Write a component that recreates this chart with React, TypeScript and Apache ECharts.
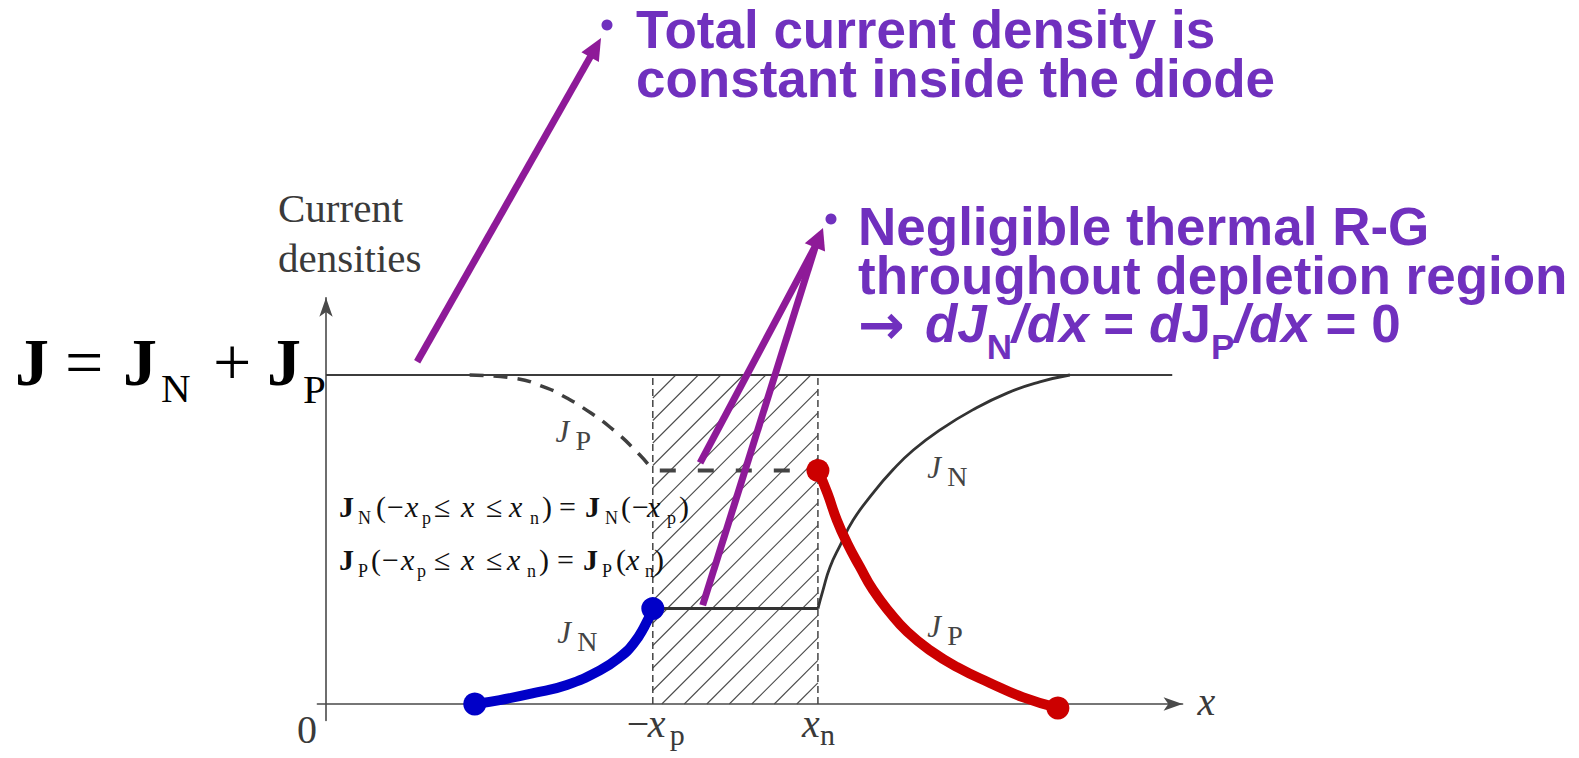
import React, { useEffect, useRef } from "react";
import * as echarts from "echarts";

// ---- axis ranges (position x, current density normalised to J) ----
const X_MIN = -0.1;
const X_MAX = 9.96;
const Y_MIN = -0.05;
const Y_MAX = 1.235;

// depletion region edges and current levels
const NEG_XP = 3.8;
const XN = 5.72;
const J_TOTAL = 1;
const J_LINE_END = 9.84;
const JN_AT_NEG_XP = 0.29;
const JP_AT_XN = 0.71;

// hole current on the p side (dashed)
const jpPSide: number[][] = [
  [1.67, 1.0], [2.17, 0.991], [2.57, 0.96], [2.8, 0.93], [2.99, 0.9],
  [3.3, 0.842], [3.65, 0.757], [NEG_XP, JP_AT_XN],
];
// electron current on the p side (blue)
const jnPSide: number[][] = [
  [1.73, 0], [2.02, 0.012], [2.41, 0.033], [2.8, 0.058], [3.19, 0.103],
  [3.42, 0.143], [3.58, 0.185], [3.7, 0.234], [NEG_XP, JN_AT_NEG_XP],
];
// electron current on the n side (thin black)
const jnNSide: number[][] = [
  [XN, JN_AT_NEG_XP], [5.78, 0.347], [5.86, 0.416], [5.98, 0.483], [6.13, 0.559],
  [6.36, 0.641], [6.59, 0.711], [6.83, 0.772], [7.14, 0.833], [7.52, 0.894],
  [7.92, 0.945], [8.3, 0.979], [8.65, 1.0],
];
// hole current on the n side (red)
const jpNSide: number[][] = [
  [XN, JP_AT_XN], [5.83, 0.641], [5.94, 0.559], [6.06, 0.489], [6.21, 0.416],
  [6.36, 0.347], [6.56, 0.277], [6.76, 0.219], [7.02, 0.164], [7.34, 0.112],
  [7.72, 0.064], [8.1, 0.021], [8.51, -0.012],
];

const TITLE_1 = ["Total current density is", "constant inside the diode"];
const TITLE_2 = ["Negligible thermal R-G", "throughout depletion region"];

// ---- layout ----
const W = 1579;
const H = 758;
const ORIGIN_X = 326;
const ORIGIN_Y = 704;
const PX_PER_X = 86;
const PX_PER_Y = 329;

const SERIF = '"Liberation Serif", "Times New Roman", serif';
const SANS = '"Liberation Sans", Arial, sans-serif';
const PURPLE_TEXT = "#7030BE";
const PURPLE_ARROW = "#8E1A98";
const INK = "#3a3a3a";
const BLUE = "#0000C8";
const RED = "#CC0000";

type Tok = { t: string; at?: number; gap?: number; size: number; fam?: string; w?: string; it?: boolean; dy?: number };

let measureCtx: CanvasRenderingContext2D | null = null;

function tokenTexts(x0: number, base: number, toks: Tok[], fam: string, fill: string): any[] {
  if (!measureCtx) measureCtx = document.createElement("canvas").getContext("2d");
  let x = x0;
  const out: any[] = [];
  for (const tok of toks) {
    const font = `${tok.it ? "italic" : "normal"} ${tok.w || "normal"} ${tok.size}px ${tok.fam || fam}`;
    if (tok.at !== undefined) x = x0 + tok.at;
    else x += tok.gap || 0;
    out.push({
      type: "text",
      x,
      y: base + (tok.dy || 0) - 0.34 * tok.size,
      z: 100,
      silent: true,
      style: { text: tok.t, font, fill, align: "left", verticalAlign: "middle" },
    });
    measureCtx!.font = font;
    x += measureCtx!.measureText(tok.t).width;
  }
  return out;
}

function arrowShapes(tails: number[][], tip: number[], headLen: number, headW: number, width: number): any[] {
  // head direction: mean of the unit directions of all shafts
  let ux = 0, uy = 0;
  tails.forEach(([tx, ty]) => {
    const dx = tip[0] - tx, dy = tip[1] - ty;
    const l = Math.hypot(dx, dy);
    ux += dx / l; uy += dy / l;
  });
  const l = Math.hypot(ux, uy);
  ux /= l; uy /= l;
  const bx = tip[0] - ux * headLen, by = tip[1] - uy * headLen;
  const px = -uy, py = ux;
  const out: any[] = tails.map(([tx, ty]) => ({
    type: "line",
    z: 110,
    silent: true,
    shape: { x1: tx, y1: ty, x2: bx + ux * 2, y2: by + uy * 2 },
    style: { stroke: PURPLE_ARROW, lineWidth: width, lineCap: "butt" },
  }));
  out.push({
    type: "polygon",
    z: 111,
    silent: true,
    shape: {
      points: [
        [tip[0], tip[1]],
        [bx + (px * headW) / 2, by + (py * headW) / 2],
        [bx - (px * headW) / 2, by - (py * headW) / 2],
      ],
    },
    style: { fill: PURPLE_ARROW },
  });
  return out;
}

function hatchItem(params: any, api: any) {
  const tl = api.coord([api.value(0), api.value(3)]);
  const br = api.coord([api.value(1), api.value(2)]);
  const x0 = tl[0], y0 = tl[1], x1 = br[0], y1 = br[1];
  const step = 22.5;
  const phase = x0 + y1 + 9;
  const kMin = Math.ceil((x0 + y0 - phase) / step);
  const kMax = Math.floor((x1 + y1 - phase) / step);
  const children: any[] = [];
  for (let k = kMin; k <= kMax; k++) {
    const c = phase + k * step;
    const xa = Math.max(x0, c - y1);
    const xb = Math.min(x1, c - y0);
    if (xb > xa) {
      children.push({
        type: "line",
        shape: { x1: xa, y1: c - xa, x2: xb, y2: c - xb },
        style: { stroke: "#4a4a4a", lineWidth: 1.1 },
      });
    }
  }
  return { type: "group", children };
}

function lineSeries(data: number[][], color: string, width: number, extra: any = {}) {
  return {
    type: "line",
    data,
    symbol: "none",
    showSymbol: false,
    silent: true,
    lineStyle: { color, width, ...(extra.lineStyle || {}) },
    z: extra.z ?? 3,
    smooth: extra.smooth ?? false,
  };
}

export default function App() {
  const ref = useRef<HTMLDivElement>(null);

  useEffect(() => {
    document.body.style.margin = "0";
    const chart = echarts.init(ref.current!, undefined, { renderer: "svg" });

    const axisLine = { color: "#4a4a4a", width: 1.6 };
    chart.setOption({
      animation: false,
      backgroundColor: "#ffffff",
      grid: {
        left: ORIGIN_X + X_MIN * PX_PER_X,
        top: ORIGIN_Y - Y_MAX * PX_PER_Y,
        width: (X_MAX - X_MIN) * PX_PER_X,
        height: (Y_MAX - Y_MIN) * PX_PER_Y,
        containLabel: false,
        outerBoundsMode: "none",
      },
      xAxis: {
        type: "value",
        min: X_MIN,
        max: X_MAX,
        axisLine: { onZero: true, symbol: ["none", "arrow"], symbolSize: [10, 19], lineStyle: axisLine },
        axisTick: { show: false },
        axisLabel: { show: false },
        splitLine: { show: false },
      },
      yAxis: {
        type: "value",
        min: Y_MIN,
        max: Y_MAX,
        axisLine: { onZero: true, symbol: ["none", "arrow"], symbolSize: [10, 19], lineStyle: axisLine },
        axisTick: { show: false },
        axisLabel: { show: false },
        splitLine: { show: false },
      },
      series: [
        {
          type: "custom",
          silent: true,
          z: 1,
          renderItem: hatchItem,
          data: [[NEG_XP, XN, 0, J_TOTAL]],
          encode: { x: [0, 1], y: [2, 3] },
        },
        lineSeries([[NEG_XP, 0], [NEG_XP, J_TOTAL]], "#444", 1.5, { lineStyle: { type: [7, 4] }, z: 2 }),
        lineSeries([[XN, 0], [XN, J_TOTAL]], "#444", 1.5, { lineStyle: { type: [7, 4] }, z: 2 }),
        lineSeries([[0, J_TOTAL], [J_LINE_END, J_TOTAL]], "#3c3c3c", 2),
        lineSeries(jpPSide, "#3f3f3f", 3.5, { smooth: true, lineStyle: { type: [14, 10] } }),
        lineSeries([[NEG_XP, JP_AT_XN], [XN, JP_AT_XN]], "#444", 4, { lineStyle: { type: [16, 22], dashOffset: 31 } }),
        lineSeries([[NEG_XP, JN_AT_NEG_XP], [XN, JN_AT_NEG_XP]], "#333", 3),
        lineSeries(jnNSide, "#333", 2.8, { smooth: true }),
        lineSeries(jnPSide, BLUE, 10, { smooth: true, z: 5 }),
        lineSeries(jpNSide, RED, 10, { smooth: true, z: 5 }),
        {
          type: "scatter",
          silent: true,
          z: 6,
          symbolSize: 23,
          itemStyle: { opacity: 1 },
          data: [
            { value: jnPSide[0], itemStyle: { color: BLUE, opacity: 1 } },
            { value: jnPSide[jnPSide.length - 1], itemStyle: { color: BLUE, opacity: 1 } },
            { value: jpNSide[0], itemStyle: { color: RED, opacity: 1 } },
            { value: jpNSide[jpNSide.length - 1], itemStyle: { color: RED, opacity: 1 } },
          ],
        },
      ],
    });

    const px = (x: number, y: number) => chart.convertToPixel({ gridIndex: 0 }, [x, y]) as number[];
    const o = px(0, 0);
    const pXp = px(NEG_XP, 0);
    const pXn = px(XN, 0);
    const xEnd = px(X_MAX, 0);

    const els: any[] = [];

    // axis captions
    els.push(...tokenTexts(o[0] - 29, o[1] + 39, [{ t: "0", size: 40 }], SERIF, INK));
    els.push(...tokenTexts(pXp[0] - 26, o[1] + 33, [
      { t: "\u2212", at: 0, size: 40 },
      { t: "x", at: 21, size: 40, it: true },
      { t: "p", at: 43, size: 30, dy: 8 },
    ], SERIF, INK));
    els.push(...tokenTexts(pXn[0] - 16, o[1] + 33, [
      { t: "x", at: 0, size: 40, it: true },
      { t: "n", at: 18, size: 30, dy: 8 },
    ], SERIF, INK));
    els.push(...tokenTexts(xEnd[0] + 15, o[1] + 11, [{ t: "x", size: 40, it: true }], SERIF, INK));
    els.push(...tokenTexts(278, 222, [{ t: "Current", size: 41 }], SERIF, INK));
    els.push(...tokenTexts(278, 272, [{ t: "densities", size: 41 }], SERIF, INK));

    // curve labels
    const curveLabel = (x: number, y: number, sub: string) => {
      const p = px(x, y);
      return tokenTexts(p[0], p[1], [
        { t: "J", at: 0, size: 31, it: true },
        { t: sub, at: 20, size: 28, dy: 8 },
      ], SERIF, "#444");
    };
    els.push(...curveLabel(2.67, 0.796, "P"));
    els.push(...curveLabel(2.69, 0.185, "N"));
    els.push(...curveLabel(6.99, 0.687, "N"));
    els.push(...curveLabel(6.99, 0.204, "P"));

    // J = J_N + J_P
    els.push(...tokenTexts(15, 385, [
      { t: "J", at: 0, size: 68, w: "bold" },
      { t: "=", at: 50, size: 68 },
      { t: "J", at: 108, size: 68, w: "bold" },
      { t: "N", at: 146, size: 41, dy: 17 },
      { t: "+", at: 198, size: 68 },
      { t: "J", at: 252, size: 68, w: "bold" },
      { t: "P", at: 288, size: 41, dy: 18 },
    ], SERIF, "#000"));

    // boundary conditions across the depletion region
    const S = 30, s = 18, d = 7;
    els.push(...tokenTexts(339, 517, [
      { t: "J", at: 0, size: S, w: "bold" }, { t: "N", at: 19, size: s, dy: d },
      { t: "(", at: 37, size: S }, { t: "\u2212", at: 48, size: S },
      { t: "x", at: 66, size: S, it: true }, { t: "p", at: 83, size: s, dy: d },
      { t: "\u2264", at: 95, size: S }, { t: "x", at: 122, size: S, it: true },
      { t: "\u2264", at: 147, size: S }, { t: "x", at: 170, size: S, it: true },
      { t: "n", at: 191, size: s, dy: d }, { t: ")", at: 203, size: S },
      { t: "=", at: 220, size: S }, { t: "J", at: 246, size: S, w: "bold" },
      { t: "N", at: 266, size: s, dy: d }, { t: "(", at: 282, size: S },
      { t: "\u2212", at: 293, size: S }, { t: "x", at: 308, size: S, it: true },
      { t: "p", at: 328, size: s, dy: d }, { t: ")", at: 340, size: S },
    ], SERIF, "#111"));
    els.push(...tokenTexts(339, 570, [
      { t: "J", at: 0, size: S, w: "bold" }, { t: "P", at: 19, size: s, dy: d },
      { t: "(", at: 32, size: S }, { t: "\u2212", at: 43, size: S },
      { t: "x", at: 62, size: S, it: true }, { t: "p", at: 78, size: s, dy: d },
      { t: "\u2264", at: 95, size: S }, { t: "x", at: 122, size: S, it: true },
      { t: "\u2264", at: 147, size: S }, { t: "x", at: 168, size: S, it: true },
      { t: "n", at: 188, size: s, dy: d }, { t: ")", at: 200, size: S },
      { t: "=", at: 218, size: S }, { t: "J", at: 244, size: S, w: "bold" },
      { t: "P", at: 263, size: s, dy: d }, { t: "(", at: 277, size: S },
      { t: "x", at: 287, size: S, it: true }, { t: "n", at: 306, size: s, dy: d },
      { t: ")", at: 315, size: S },
    ], SERIF, "#111"));

    // call-outs
    const T = 53;
    els.push(...tokenTexts(636, 48, [{ t: TITLE_1[0], size: T, w: "bold" }], SANS, PURPLE_TEXT));
    els.push(...tokenTexts(636, 97, [{ t: TITLE_1[1], size: T, w: "bold" }], SANS, PURPLE_TEXT));
    els.push(...tokenTexts(858, 245, [{ t: TITLE_2[0], size: T, w: "bold" }], SANS, PURPLE_TEXT));
    els.push(...tokenTexts(858, 294, [{ t: TITLE_2[1], size: T, w: "bold" }], SANS, PURPLE_TEXT));
    els.push(...tokenTexts(858, 342, [
      { t: "\u2192", size: 56, w: "bold", fam: '"DejaVu Sans"', dy: 2 },
      { t: "dJ", gap: 20, size: T, w: "bold", it: true },
      { t: "N", size: 35, w: "bold", dy: 16 },
      { t: "/dx", size: T, w: "bold", it: true },
      { t: " = ", size: T, w: "bold" },
      { t: "d", size: T, w: "bold", it: true },
      { t: "J", size: T, w: "bold" },
      { t: "P", size: 35, w: "bold", dy: 16 },
      { t: "/dx", size: T, w: "bold", it: true },
      { t: " = 0", size: T, w: "bold" },
    ], SANS, PURPLE_TEXT));
    els.push({ type: "circle", z: 100, silent: true, shape: { cx: 607, cy: 25, r: 5.5 }, style: { fill: PURPLE_TEXT } });
    els.push({ type: "circle", z: 100, silent: true, shape: { cx: 831, cy: 219, r: 5.5 }, style: { fill: PURPLE_TEXT } });

    // pointer arrows
    els.push(...arrowShapes([px(1.06, 1.04)], [601, 38], 22, 20, 7));
    els.push(...arrowShapes([px(4.35, 0.733), px(4.38, 0.30)], [823, 228], 21, 22, 7));

    chart.setOption({ graphic: { elements: els } });

    return () => chart.dispose();
  }, []);

  return <div ref={ref} style={{ width: W, height: H }} />;
}
